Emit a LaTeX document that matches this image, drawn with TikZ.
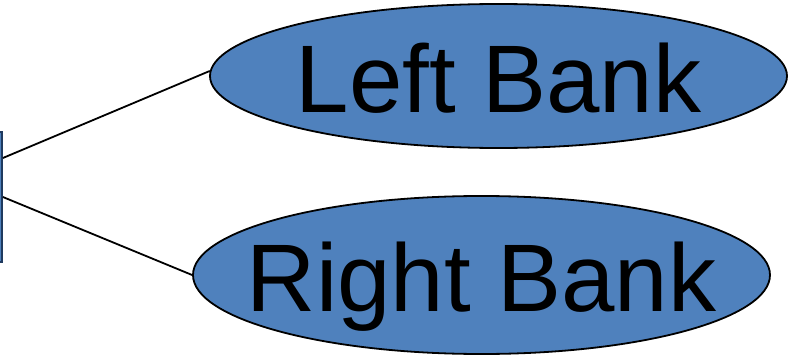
\documentclass[tikz,border=0pt]{standalone}
\usepackage{fontspec}
\setmainfont{Liberation Sans}
\usepackage{tikz}
\usepackage{xcolor}
\usetikzlibrary{shapes}
\definecolor{bankblue}{HTML}{4F81BD}
\definecolor{rootnavy}{HTML}{1F3A5F}

\begin{document}
\begin{tikzpicture}[x=1pt,y=1pt,
bank/.style={ellipse,draw=black,line width=1.8pt,fill=bankblue,inner sep=0pt,minimum width=577pt,minimum height=144pt},
banktext/.style={font=\fontsize{96}{110}\selectfont,text depth=0pt,inner sep=0pt,yshift=-1.5pt},
link/.style={line width=1.8pt,black}]
\useasboundingbox(0,0)rectangle(788,357);
\clip(0,0)rectangle(788,357);
\node[rectangle,draw=rootnavy,line width=1.8pt,fill=bankblue,minimum width=40pt,minimum height=130pt](root)at(-18,160){};
\node[bank,label={[banktext]center:Left Bank}](left)at(498.5,281){};
\node[bank,minimum height=158pt,label={[banktext]center:Right Bank}](right)at(481.5,82){};
\draw[link]([yshift=39pt]root.east)--(left.179);
\draw[link](root.east)--(right.west);
\end{tikzpicture}
\end{document}
